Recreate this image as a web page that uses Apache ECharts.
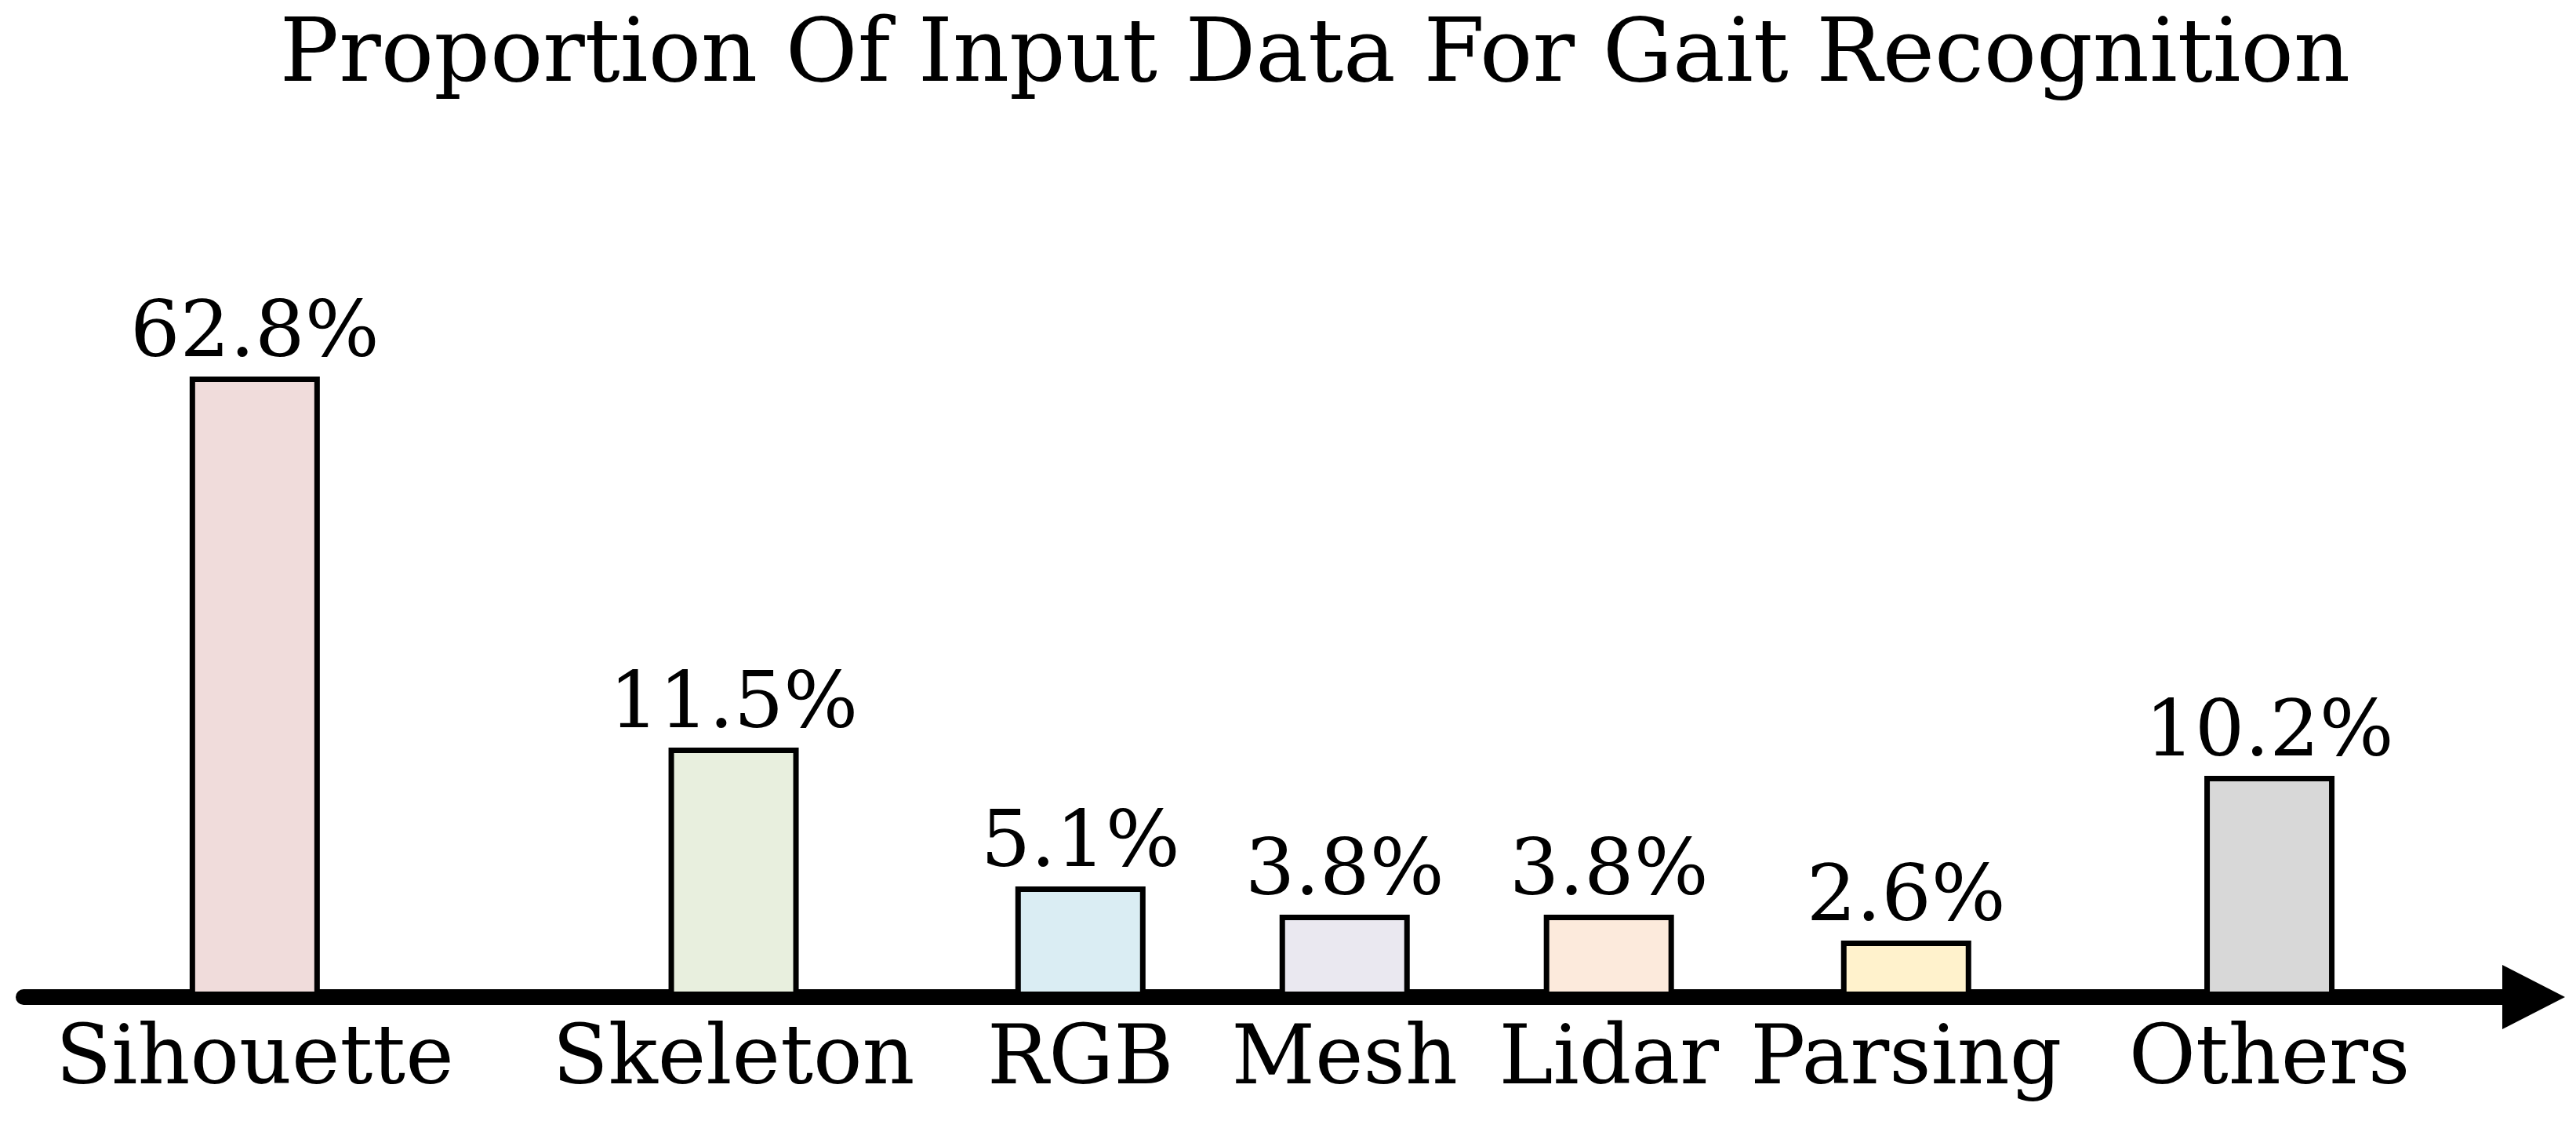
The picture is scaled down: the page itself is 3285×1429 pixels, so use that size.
<!DOCTYPE html>
<html>
<head>
<meta charset="utf-8">
<script src="https://cdn.jsdelivr.net/npm/echarts@6/dist/echarts.min.js"></script>
<style>
html,body{margin:0;padding:0;background:#fff;}
#chart{width:3285px;height:1429px;}
</style>
</head>
<body>
<div id="chart"></div>
<script>
// ---- data ----
const titleText = 'Proportion Of Input Data For Gait Recognition';
const categories = ['Sihouette', 'Skeleton', 'RGB', 'Mesh', 'Lidar', 'Parsing', 'Others'];
const proportions = [62.8, 11.5, 5.1, 3.8, 3.8, 2.6, 10.2];

// ---- layout / style (not data) ----
const barColors = ['#F0DCDB', '#E8EFDE', '#DAEDF3', '#EAE8F0', '#FCEADC', '#FFF2CC', '#D8D8D8'];
const slotCount = 153;                      // fine slots along the x axis (uneven spacing as in the original)
const slotIndex = [14, 43, 64, 80, 96, 114, 136];

const axisSlots = new Array(slotCount).fill('');
const barData = new Array(slotCount).fill('-');
categories.forEach((name, i) => {
  axisSlots[slotIndex[i]] = name;
  barData[slotIndex[i]] = { value: proportions[i], itemStyle: { color: barColors[i] } };
});

const FONT = 'DejaVu Serif';
const chart = echarts.init(document.getElementById('chart'));
chart.setOption({
  animation: false,
  backgroundColor: '#ffffff',
  title: {
    text: titleText,
    left: 1677,
    textAlign: 'center',
    top: 18,
    padding: 0,
    textStyle: { fontFamily: FONT, fontSize: 112, fontWeight: 'normal', color: '#000' }
  },
  grid: { left: 30, right: 54, top: 480, bottom: 158, containLabel: false },
  xAxis: {
    type: 'category',
    data: axisSlots,
    boundaryGap: false,
    offset: 9,
    axisLine: {
      show: true,
      symbol: ['none', 'triangle'],
      symbolSize: [82, 80],
      lineStyle: { color: '#000', width: 20, cap: 'round' }
    },
    axisTick: { show: false },
    splitLine: { show: false },
    axisLabel: {
      interval: 0,
      margin: 22,
      fontFamily: FONT,
      fontSize: 104,
      color: '#000'
    }
  },
  yAxis: {
    type: 'value',
    min: 0,
    max: 62.8,
    show: false,
    splitLine: { show: false },
    breaks: [{ start: 12, end: 46.2, gap: 0 }],
    breakArea: { show: false, itemStyle: { opacity: 0 } }
  },
  series: [{
    type: 'bar',
    data: barData,
    barWidth: 166,
    itemStyle: { borderColor: '#000', borderWidth: 7 },
    label: {
      show: true,
      position: 'top',
      distance: 2,
      formatter: '{c}%',
      fontFamily: FONT,
      fontSize: 100,
      color: '#000'
    }
  }]
});
</script>
</body>
</html>
